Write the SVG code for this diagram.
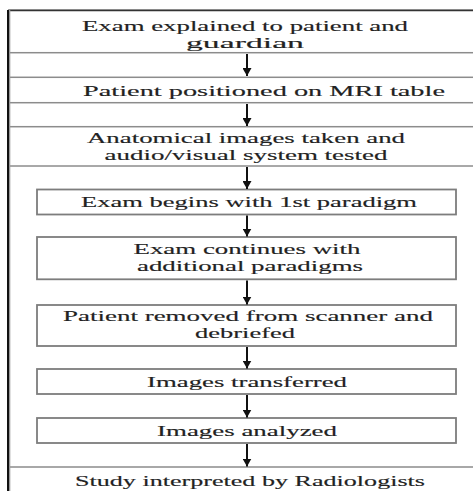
<svg xmlns="http://www.w3.org/2000/svg" width="473" height="491" viewBox="0 0 473 491">
<style>
.wide{fill:#fff;stroke:#8c8c8c;stroke-width:1.5}
.box{fill:#fff;stroke:#7d7d7d;stroke-width:1.8}
.t{font-family:"Liberation Serif","DejaVu Serif",serif;font-size:15.5px;fill:#222;stroke:#222;stroke-width:0.15;text-anchor:middle}
.arr{stroke:#111;stroke-width:2;fill:none}
</style>
<defs>
<marker id="ah" markerUnits="userSpaceOnUse" markerWidth="11" markerHeight="9" refX="8" refY="4.5" orient="auto">
<path d="M0,0 L8,4.5 L0,9 z" fill="#111"/>
</marker>
</defs>
<rect width="473" height="491" fill="#fff"/>
<g id="n1"><rect class="wide" x="9" y="10" width="480" height="42.7"/><line x1="8" y1="10.5" x2="473" y2="10.5" stroke="#333" stroke-width="1.5"/>
<text class="t" x="245" y="30.8" textLength="326" lengthAdjust="spacingAndGlyphs">Exam explained to patient and</text>
<text class="t" x="245" y="48" textLength="118" lengthAdjust="spacingAndGlyphs">guardian</text></g>
<g id="n2"><rect class="wide" x="9" y="77.3" width="480" height="25.4"/>
<text class="t" x="264" y="96.3" textLength="362" lengthAdjust="spacingAndGlyphs">Patient positioned on MRI table</text></g>
<g id="n3"><rect class="wide" x="9" y="126.7" width="480" height="39.3"/>
<text class="t" x="246" y="143.2" textLength="318" lengthAdjust="spacingAndGlyphs">Anatomical images taken and</text>
<text class="t" x="246" y="160.3" textLength="283" lengthAdjust="spacingAndGlyphs">audio/visual system tested</text></g>
<g id="n4"><rect class="box" x="37" y="189.5" width="419" height="25"/>
<text class="t" x="249" y="207" textLength="336" lengthAdjust="spacingAndGlyphs">Exam begins with 1st paradigm</text></g>
<g id="n5"><rect class="box" x="37" y="237" width="419" height="42.3"/>
<text class="t" x="247" y="253.8" textLength="227" lengthAdjust="spacingAndGlyphs">Exam continues with</text>
<text class="t" x="250" y="270.9" textLength="226" lengthAdjust="spacingAndGlyphs">additional paradigms</text></g>
<g id="n6"><rect class="box" x="37" y="305" width="419" height="41"/>
<text class="t" x="248" y="320.5" textLength="370" lengthAdjust="spacingAndGlyphs">Patient removed from scanner and</text>
<text class="t" x="245" y="337.6" textLength="100" lengthAdjust="spacingAndGlyphs">debriefed</text></g>
<g id="n7"><rect class="box" x="37" y="369" width="419" height="25"/>
<text class="t" x="247" y="386.5" textLength="200" lengthAdjust="spacingAndGlyphs">Images transferred</text></g>
<g id="n8"><rect class="box" x="37" y="418" width="419" height="25"/>
<text class="t" x="247" y="435.8" textLength="180" lengthAdjust="spacingAndGlyphs">Images analyzed</text></g>
<g id="n9"><rect class="wide" x="9" y="467" width="480" height="40"/>
<text class="t" x="250" y="485.8" textLength="350" lengthAdjust="spacingAndGlyphs">Study interpreted by Radiologists</text></g>
<g id="frame"><rect x="7" y="10" width="2" height="481" fill="#111"/><rect x="9" y="10" width="1.3" height="481" fill="#999"/></g>
<g id="connectors">
<line class="arr" x1="247" y1="54" x2="247" y2="76" marker-end="url(#ah)"/>
<line class="arr" x1="247" y1="104" x2="247" y2="126" marker-end="url(#ah)"/>
<line class="arr" x1="247" y1="167" x2="247" y2="189" marker-end="url(#ah)"/>
<line class="arr" x1="247" y1="215.5" x2="247" y2="236.5" marker-end="url(#ah)"/>
<line class="arr" x1="247" y1="280.5" x2="247" y2="304.5" marker-end="url(#ah)"/>
<line class="arr" x1="247" y1="347" x2="247" y2="368.5" marker-end="url(#ah)"/>
<line class="arr" x1="247" y1="395" x2="247" y2="417.5" marker-end="url(#ah)"/>
<line class="arr" x1="247" y1="444" x2="247" y2="466.5" marker-end="url(#ah)"/>
</g>
</svg>
